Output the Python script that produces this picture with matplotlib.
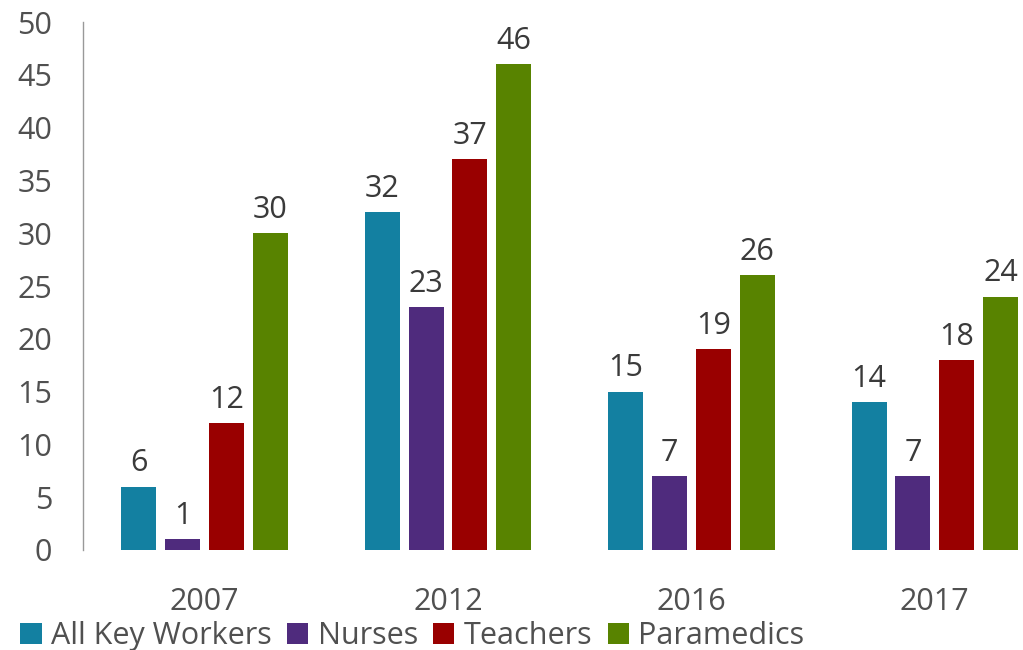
#!/usr/bin/env python

""" Grouped bar chart of key worker percentages by year
"""

import numpy as np
import matplotlib
matplotlib.use("Agg")
import matplotlib.pyplot as plt

years = ["2007", "2012", "2016", "2017"]
series = ["All Key Workers", "Nurses", "Teachers", "Paramedics"]
all_key_workers = [6, 32, 15, 14]
nurses = [1, 23, 7, 7]
teachers = [12, 37, 19, 18]
paramedics = [30, 46, 26, 24]
colors = ["#1380A1", "#4F2B7D", "#990000", "#588300"]

plt.rcParams["font.family"] = ["Open Sans", "DejaVu Sans"]

fig = plt.figure(figsize=(10.23, 6.5), dpi=100)
ax = fig.add_axes([0.081, 0.154, 0.916, 0.812])

x = np.arange(len(years))
pitch = 0.18
width = 0.144
values = [all_key_workers, nurses, teachers, paramedics]
for i, (name, vals, col) in enumerate(zip(series, values, colors)):
    pos = x + (i - 1.5) * pitch
    bars = ax.bar(pos, vals, width, color=col, label=name)
    for b, v in zip(bars, vals):
        ax.annotate(str(v), (b.get_x() + b.get_width() / 2, v),
            xytext=(0, 6), textcoords="offset points",
            ha="center", va="bottom", fontsize=22, color="#3a3a3a")

ax.set_xlim(-0.5, 3.35)
ax.set_ylim(0, 50)
ax.set_yticks(range(0, 51, 5))
ax.set_xticks(x)
ax.set_xticklabels(years)
for s in ["top", "right", "bottom"]:
    ax.spines[s].set_visible(False)
ax.spines["left"].set_color("#999999")
ax.spines["left"].set_linewidth(1)
ax.tick_params(axis="both", length=0, labelsize=22, labelcolor="#505050")
ax.tick_params(axis="y", pad=22)
ax.tick_params(axis="x", pad=27)

fig.legend(loc="lower left", bbox_to_anchor=(0.002, -0.03), ncol=4,
    frameon=False, fontsize=22, handlelength=0.7, handleheight=0.7,
    handletextpad=0.3, columnspacing=0.5, borderpad=0.1,
    labelcolor="#505050")

fig.savefig("out.png", dpi=100)
